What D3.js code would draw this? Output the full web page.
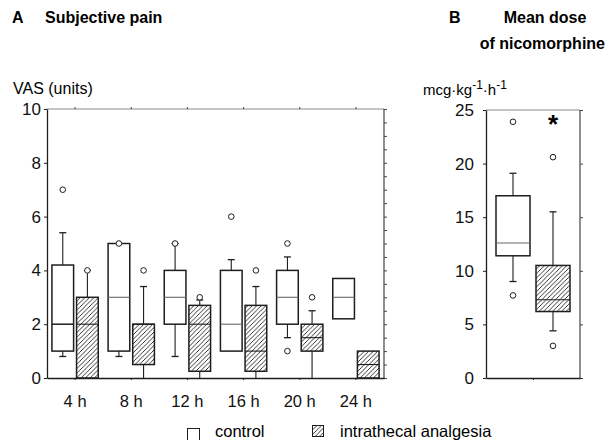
<!DOCTYPE html>
<html>
<head>
<meta charset="utf-8">
<script src="https://cdn.jsdelivr.net/npm/d3@7"></script>
<style>
body { margin: 0; background: #fff; }
svg { display: block; font-family: "Liberation Sans", Arial, sans-serif; }
</style>
</head>
<body>
<svg width="607" height="440"></svg>
<script>
// panel A: VAS per time point
var times = ["4 h", "8 h", "12 h", "16 h", "20 h", "24 h"];

var ctrlLow  = [0.8, 0.8, 0.8, 1,   1.5, 2.2];
var ctrlQ1   = [1,   1,   2,   1,   2,   2.2];
var ctrlMed  = [2,   3,   3,   2,   3,   3];
var ctrlQ3   = [4.2, 5,   4,   4,   4,   3.7];
var ctrlHigh = [5.4, 5,   5,   4.4, 4.5, 3.7];
var ctrlOut  = [[7], [5], [5], [6], [5, 1], []];

var itaLow  = [0,   0,   0,    0,    0,   0];
var itaQ1   = [0,   0.5, 0.25, 0.25, 1,   0];
var itaMed  = [2,   2,   2,    1,    1.5, 0.5];
var itaQ3   = [3,   2,   2.7,  2.7,  2,   1];
var itaHigh = [4,   3.4, 2.9,  3.4,  2.5, 1];
var itaOut  = [[4], [4], [3], [4], [3], []];

var vasTicks = [0, 2, 4, 6, 8, 10];

// panel B: mean dose of nicomorphine
var doseGroups = ["control", "intrathecal analgesia"];
var doseLow  = [9.0, 4.4];
var doseQ1   = [11.4, 6.2];
var doseMed  = [12.6, 7.3];
var doseQ3   = [17.0, 10.5];
var doseHigh = [19.1, 15.5];
var doseOut  = [[23.9, 7.7], [20.6, 3.0]];
var doseTicks = [0, 5, 10, 15, 20, 25];

var ink = "#1e1e1e";
var svg = d3.select("svg");

// hatch
var defs = svg.append("defs");
defs.append("pattern")
  .attr("id", "hatch")
  .attr("patternUnits", "userSpaceOnUse")
  .attr("width", 4.5).attr("height", 4.5)
  .append("path")
  .attr("d", "M-1,1 l2,-2 M0,4.5 l4.5,-4.5 M3.5,5.5 l2,-2")
  .attr("stroke", ink).attr("stroke-width", 0.9);

function stats(i, low, q1, med, q3, high, out) {
  return { low: low[i], q1: q1[i], med: med[i], q3: q3[i], high: high[i], out: out[i] };
}

function drawBox(g, x0, w, y, s, hatched, darkMed) {
  var cx = x0 + w / 2;
  // whiskers
  [[s.q3, s.high], [s.q1, s.low]].forEach(function (p) {
    if (p[0] === p[1]) return;
    g.append("line").attr("x1", cx).attr("x2", cx)
      .attr("y1", y(p[0])).attr("y2", y(p[1]))
      .attr("stroke", ink).attr("stroke-width", 1.1);
    if (p[1] > 0) {
      g.append("line").attr("x1", cx - 3.5).attr("x2", cx + 3.5)
        .attr("y1", y(p[1])).attr("y2", y(p[1]))
        .attr("stroke", ink).attr("stroke-width", 1.3);
    }
  });
  g.append("rect")
    .attr("x", x0).attr("y", y(s.q3))
    .attr("width", w).attr("height", y(s.q1) - y(s.q3))
    .attr("fill", hatched ? "url(#hatch)" : "#fff")
    .attr("stroke", ink).attr("stroke-width", 1.5);
  g.append("line").attr("x1", x0).attr("x2", x0 + w)
    .attr("y1", y(s.med)).attr("y2", y(s.med))
    .attr("stroke", hatched || darkMed ? ink : "#666")
    .attr("stroke-width", darkMed ? 1.5 : 1.1);
  s.out.forEach(function (v) {
    g.append("circle").attr("cx", cx).attr("cy", y(v)).attr("r", 2.8)
      .attr("fill", "#fff").attr("stroke", ink).attr("stroke-width", 1);
  });
}

function frame(x0, x1, y0, y1) {
  svg.append("line").attr("x1", x0).attr("x2", x1).attr("y1", y1).attr("y2", y1)
    .attr("stroke", "#888").attr("stroke-width", 1);
  svg.append("line").attr("x1", x1).attr("x2", x1).attr("y1", y1).attr("y2", y0)
    .attr("stroke", "#444").attr("stroke-width", 1.2);
}

function styleAxis(sel, size) {
  sel.select(".domain").attr("stroke", ink).attr("stroke-width", 1.3);
  sel.selectAll(".tick line").attr("stroke", ink);
  sel.selectAll("text").attr("font-size", size).attr("fill", "#111")
    .attr("font-family", "Liberation Sans, Arial, sans-serif");
}

// ---- panel A
var yA = d3.scaleLinear().domain([0, 10]).range([378, 109]);
var xA = d3.scaleBand().domain(times).range([47, 384]);
var inner = d3.scaleBand().domain(["c", "i"]).range([0, xA.bandwidth()])
  .paddingInner(0.12).paddingOuter(0.2);

frame(47, 384, 378, 109);
svg.append("g").attr("transform", "translate(384,0)")
  .call(d3.axisRight(yA).tickValues(d3.range(0, 10.01, 0.5)).tickSize(3).tickFormat(""))
  .call(function (s) { s.select(".domain").remove(); s.selectAll("line").attr("stroke", "#444"); });
svg.append("g").attr("transform", "translate(0,109)")
  .call(d3.axisTop(xA).tickSize(2).tickFormat(""))
  .call(function (s) { s.select(".domain").remove(); s.selectAll("line").attr("stroke", "#444"); });

var gA = svg.append("g");
times.forEach(function (t, i) {
  var bx = xA(t);
  drawBox(gA, bx + inner("c"), inner.bandwidth(), yA,
    stats(i, ctrlLow, ctrlQ1, ctrlMed, ctrlQ3, ctrlHigh, ctrlOut), false, i === 0);
  drawBox(gA, bx + inner("i"), inner.bandwidth(), yA,
    stats(i, itaLow, itaQ1, itaMed, itaQ3, itaHigh, itaOut), true);
});

svg.append("g").attr("transform", "translate(47,0)")
  .call(d3.axisLeft(yA).tickValues(vasTicks).tickSize(3).tickPadding(3).tickSizeOuter(0))
  .call(styleAxis, 17);
svg.append("g").attr("transform", "translate(0,378)")
  .call(d3.axisBottom(xA).tickSize(2).tickPadding(15).tickSizeOuter(0))
  .call(styleAxis, 16.5);

// ---- panel B
var yB = d3.scaleLinear().domain([0, 25]).range([378, 110]);
var xB = d3.scaleBand().domain(doseGroups).range([486, 580])
  .paddingInner(0.15).paddingOuter(0.25);

frame(486, 580, 378, 110);
svg.append("g").attr("transform", "translate(580,0)")
  .call(d3.axisRight(yB).tickValues(doseTicks).tickSize(3).tickFormat(""))
  .call(function (s) { s.select(".domain").remove(); s.selectAll("line").attr("stroke", "#444"); });

var gB = svg.append("g");
doseGroups.forEach(function (d, i) {
  drawBox(gB, xB(d), xB.bandwidth(), yB,
    stats(i, doseLow, doseQ1, doseMed, doseQ3, doseHigh, doseOut), i === 1);
});
gB.append("text")
  .attr("x", xB(doseGroups[1]) + xB.bandwidth() / 2).attr("y", yB(22.9))
  .attr("text-anchor", "middle").attr("font-size", 26).attr("font-weight", "bold")
  .text("*");

svg.append("g").attr("transform", "translate(486,0)")
  .call(d3.axisLeft(yB).tickValues(doseTicks).tickSize(3).tickPadding(9).tickSizeOuter(0))
  .call(styleAxis, 17);
svg.append("g").attr("transform", "translate(0,378)")
  .call(d3.axisBottom(d3.scaleLinear().domain([0, 1]).range([486, 580]))
    .tickValues([0.5]).tickSize(2).tickFormat("").tickSizeOuter(0))
  .call(styleAxis, 16);

// ---- titles
svg.append("text").attr("x", 12).attr("y", 23).attr("font-size", 16)
  .attr("font-weight", "bold").text("A");
svg.append("text").attr("x", 45).attr("y", 23).attr("font-size", 16)
  .attr("font-weight", "bold").text("Subjective pain");
svg.append("text").attr("x", 449).attr("y", 23).attr("font-size", 16)
  .attr("font-weight", "bold").text("B");
svg.append("text").attr("x", 545).attr("y", 23).attr("font-size", 16)
  .attr("font-weight", "bold").attr("text-anchor", "middle").text("Mean dose");
svg.append("text").attr("x", 605).attr("y", 49).attr("font-size", 16)
  .attr("font-weight", "bold").attr("text-anchor", "end").text("of nicomorphine");

svg.append("text").attr("x", 13).attr("y", 94).attr("font-size", 16).text("VAS (units)");
var unit = svg.append("text").attr("x", 423).attr("y", 95).attr("font-size", 15);
unit.append("tspan").text("mcg·kg");
unit.append("tspan").attr("dy", -6).attr("font-size", 12).text("-1");
unit.append("tspan").attr("dy", 6).text("·h");
unit.append("tspan").attr("dy", -6).attr("font-size", 12).text("-1");

// ---- legend
var leg = svg.append("g");
leg.append("rect").attr("x", 187.5).attr("y", 428.5).attr("width", 12).attr("height", 12)
  .attr("fill", "#fff").attr("stroke", ink).attr("stroke-width", 1);
leg.append("text").attr("x", 215).attr("y", 437).attr("font-size", 16.5).text("control");
leg.append("rect").attr("x", 312.5).attr("y", 425.5).attr("width", 11).attr("height", 11)
  .attr("fill", "url(#hatch)").attr("stroke", ink).attr("stroke-width", 1);
leg.append("text").attr("x", 340).attr("y", 437).attr("font-size", 16.5).text("intrathecal analgesia");
</script>
</body>
</html>
